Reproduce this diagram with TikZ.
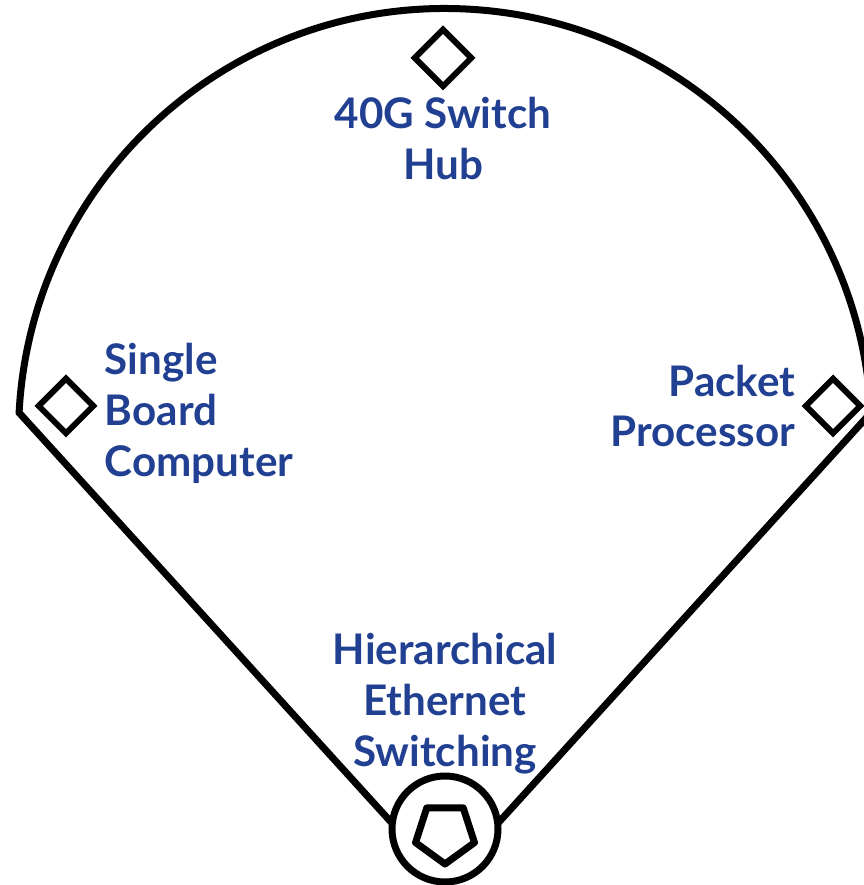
\documentclass[tikz,border=0pt]{standalone}
\usepackage{fontspec}
\setsansfont{Lato}
\definecolor{fieldBlue}{RGB}{33,64,146}
\usetikzlibrary{positioning,shapes.geometric}

\begin{document}
\begin{tikzpicture}[x=0.02cm, y=0.02cm,
  line/.style={line width=0.14cm},
  bag/.style={draw, diamond, line width=0.12cm, inner sep=0pt, minimum size=1.14cm},
  lbl/.style={text=fieldBlue, inner sep=0pt, font=\sffamily\bfseries\fontsize{24}{29}\selectfont}
]
  \useasboundingbox (0,0) rectangle (864,885);
  \clip (0,0) rectangle (864,885);

  % home plate and the bases
  \node[draw, circle, line, minimum size=2.12cm, inner sep=0pt, outer sep=0pt] (home) at (445,56) {};
  \node[draw, regular polygon, regular polygon sides=5, shape border rotate=180,
        line, line join=round, minimum size=1.24cm, inner sep=0pt] (plate) at (445,52) {};
  \node[bag] (first)  at (66,479)  {};
  \node[bag, minimum size=1.18cm] (second) at (443,827) {};
  \node[bag] (third)  at (833,479) {};

  % outfield fence and foul lines
  \coordinate (c) at (445,450);
  \path (c) ++(177:426.5) coordinate (lf);
  \path (c) ++(3:426.5) coordinate (rf);
  \draw[line] (home.174) -- (lf) arc[start angle=177, end angle=3, radius=426.5] -- (home.6);

  % labels
  \node[lbl, align=center, below=0.12cm of second] (hub) {40G Switch\\Hub};
  \node[lbl, align=left, right=0.14cm of first, yshift=-0.14cm] (sbc) {Single\\Board\\Computer};
  \node[lbl, align=right, left=0.12cm of third] (pp) {Packet\\Processor};
  \node[lbl, align=center, above=0.04cm of home] (hes) {Hierarchical\\Ethernet\\Switching};
\end{tikzpicture}
\end{document}
